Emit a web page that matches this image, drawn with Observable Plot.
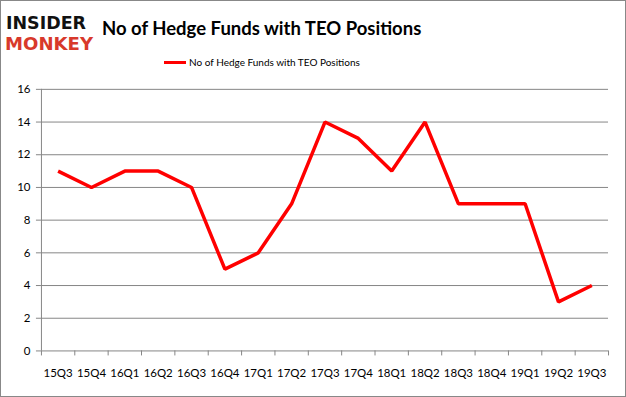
<!DOCTYPE html>
<html><head><meta charset="utf-8">
<script src="https://cdn.jsdelivr.net/npm/d3@7"></script>
<script src="https://cdn.jsdelivr.net/npm/@observablehq/plot@0.6"></script>
<style>
html,body{margin:0;padding:0;background:#fff;}
#wrap{position:relative;width:624px;height:395px;border:1px solid #888;overflow:hidden;font-family:Lato,"Open Sans",sans-serif;}
#chart{position:absolute;left:-1px;top:-1px;}
#title{position:absolute;left:101px;top:16px;font-size:18.5px;font-weight:bold;color:#000;white-space:nowrap;}
#legend{position:absolute;top:55px;left:163px;font-size:10px;color:#000;display:flex;align-items:center;white-space:nowrap;}
#legend span.sw{display:inline-block;width:22px;height:3px;background:#ff0000;margin-right:3px;}
#logo{position:absolute;left:3px;top:6px;}
</style></head>
<body>
<div id="wrap">
  <div id="chart"></div>
  <svg id="logo" width="96" height="48">
    <text x="2" y="22" font-family="DejaVu Sans" font-weight="bold" font-size="17" textLength="80" lengthAdjust="spacingAndGlyphs" fill="#111">INSIDER</text>
    <text x="1" y="43" font-family="DejaVu Sans" font-weight="bold" font-size="17" textLength="88" lengthAdjust="spacingAndGlyphs" fill="#d8392b">MONKEY</text>
  </svg>
  <div id="title"></div>
  <div id="legend"><span class="sw"></span><span id="legtext"></span></div>
</div>
<script>
const titleText = "No of Hedge Funds with TEO Positions";
const seriesName = "No of Hedge Funds with TEO Positions";
const quarters = ["15Q3","15Q4","16Q1","16Q2","16Q3","16Q4","17Q1","17Q2","17Q3","17Q4","18Q1","18Q2","18Q3","18Q4","19Q1","19Q2","19Q3"];
const funds = [11,10,11,11,10,5,6,9,14,13,11,14,9,9,9,3,4];
const yTicks = [0,2,4,6,8,10,12,14,16];

document.getElementById("title").textContent = titleText;
document.getElementById("legtext").textContent = seriesName;

const data = quarters.map((q,i)=>({i, q, v: funds[i]}));
const bounds = d3.range(quarters.length+1).map(i=>i-0.5);

const chart = Plot.plot({
  width: 626, height: 397,
  marginTop: 89, marginBottom: 46, marginLeft: 41, marginRight: 17,
  style: {fontFamily: "Lato, 'Open Sans', sans-serif", fontSize: "11.5px", color: "#000", background: "transparent"},
  x: {type: "linear", domain: [-0.5, quarters.length-0.5]},
  y: {domain: [0,16]},
  marks: [
    Plot.gridY(yTicks.filter(d=>d>0), {stroke: "#868686", strokeOpacity: 1, strokeWidth: 1}),
    Plot.ruleY([0], {stroke: "#868686"}),
    Plot.ruleX([-0.5], {stroke: "#868686"}),
    Plot.axisY(yTicks, {tickSize: 5, tickPadding: 6, stroke: "#868686", label: null, tickFormat: d=>d, fill: "#000"}),
    Plot.axisX(bounds, {tickSize: 5, tickFormat: ()=>"", stroke: "#868686", label: null}),
    Plot.axisX(d3.range(quarters.length), {tickSize: 0, tickPadding: 18, tickFormat: i=>quarters[i], label: null, fill: "#000"}),
    Plot.line(data, {x: "i", y: "v", stroke: "#ff0000", strokeWidth: 3.5, strokeLinejoin: "miter", strokeLinecap: "butt"})
  ]
});
document.getElementById("chart").appendChild(chart);
</script>
</body></html>
